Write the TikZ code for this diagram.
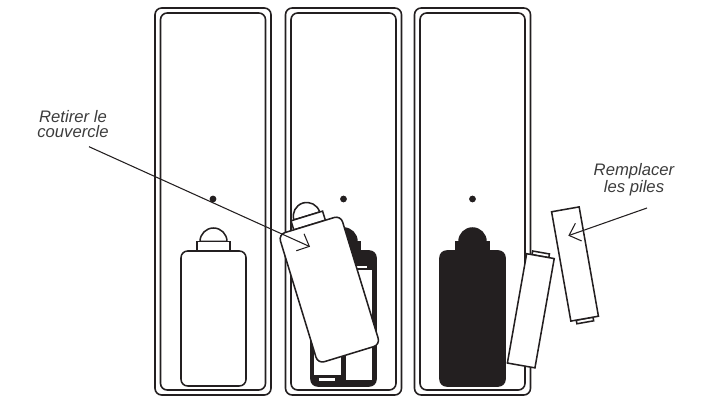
\documentclass[tikz,border=0pt]{standalone}
\usepackage{fontspec}
\setmainfont{Liberation Sans}
\usepackage{xcolor}
\usetikzlibrary{arrows.meta}
\definecolor{inkblack}{RGB}{35,31,32}
\definecolor{labelgray}{RGB}{60,60,60}
\tikzset{
  shellline/.style={draw=inkblack,line width=1.2pt,rounded corners=5pt},
  cellline/.style={draw=inkblack,fill=white,line width=1.15pt},
  pointer/.style={draw=inkblack,line width=0.8pt,-{Straight Barb[length=7.5pt,width=14pt]}},
  caption/.style={font=\itshape\fontsize{12.5}{11}\selectfont,text=labelgray,align=center,inner sep=0pt}
}
\newcommand{\remoteshell}[1]{%
  \draw[shellline] (#1,-8) rectangle ++(116,-387);
  \draw[shellline] (#1+5.5,-13) rectangle ++(105,-377);
  \fill[inkblack] (#1+58,-199) circle (3.4);
}
% #1 centre x, #2 centre y, #3 angle, #4 fill
\newcommand{\coverplate}[4]{%
  \begin{scope}[shift={(#1,#2)},rotate=#3]
    \draw[draw=inkblack,fill=#4,line width=1.15pt] (-13.5,77) arc[start angle=180,end angle=0,radius=13.5] -- cycle;
    \draw[draw=inkblack,fill=#4,line width=1.15pt] (-16.5,67.5) rectangle (16.5,77);
    \draw[draw=inkblack,fill=#4,line width=1.15pt,rounded corners=5pt] (-32.5,-67.5) rectangle (32.5,67.5);
  \end{scope}
}
% #1 centre x, #2 centre y, #3 angle, #4 side of the nub
\newcommand{\aaacell}[4]{%
  \begin{scope}[shift={(#1,#2)},rotate=#3]
    \draw[cellline] (-8.5,#4*55.5) rectangle (8.5,#4*59.2);
    \draw[cellline] (-14,-55.5) rectangle (14,55.5);
  \end{scope}
}

\begin{document}
\begin{tikzpicture}[x=0.75pt,y=0.75pt]
  \useasboundingbox (0,0) rectangle (720,-398);
  \foreach \rx in {155,285.5,414.5} {\remoteshell{\rx}}
  \coverplate{213.5}{-318.5}{0}{white}
  % open compartment
  \coverplate{343.5}{-318.5}{0}{inkblack}
  \fill[white] (355,-266) rectangle (367,-268.5);
  \fill[white] (346,-270) rectangle (372,-380);
  \fill[white] (314,-270) rectangle (341,-375);
  \fill[white] (319,-378) rectangle (335,-380.5);
  \coverplate{329.3}{-289.6}{17}{white}
  \coverplate{472.5}{-318.5}{0}{inkblack}
  \aaacell{530.8}{-310.8}{-10}{1}
  \aaacell{575}{-264}{10}{-1}
  \node[caption] (retirer) at (73,-124) {Retirer le\\couvercle};
  \node[caption] (remplacer) at (634,-179.5) {Remplacer\\les piles};
  \coordinate (retirerfrom) at (89,-146.7);
  \coordinate (retirerto) at (310,-246.7);
  \coordinate (remplacerfrom) at (647,-208);
  \coordinate (remplacerto) at (568.3,-235.7);
  \draw[pointer] (retirerfrom) -- (retirerto);
  \draw[pointer] (remplacerfrom) -- (remplacerto);
\end{tikzpicture}
\end{document}
